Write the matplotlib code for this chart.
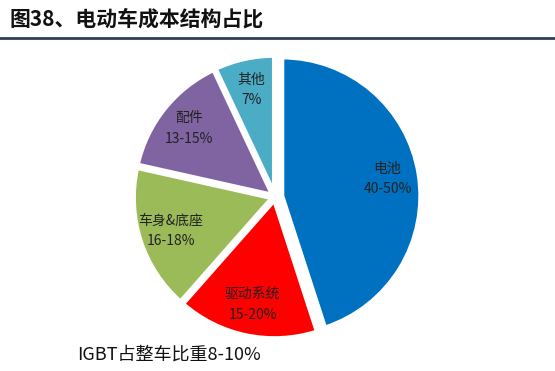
import numpy as np
import matplotlib.pyplot as plt
from matplotlib.lines import Line2D

plt.rcParams['font.family'] = ['Noto Sans CJK SC', 'DejaVu Sans']

# slice data (share of cost, %)
names = ['电池', '驱动系统', '车身&底座', '配件', '其他']
ranges = ['40-50%', '15-20%', '16-18%', '13-15%', '7%']
shares = [45, 16.5, 17, 14.5, 7]
colors = ['#0070C0', '#FF0000', '#9BBB59', '#8064A2', '#4BACC6']
explode = [0.05, 0.02, 0.02, 0.02, 0.02]

title = '图38、电动车成本结构占比'
note = 'IGBT占整车比重8-10%'

fig = plt.figure(figsize=(5.55, 3.71), dpi=100)

# title and rule beneath it
fig.text(0.018, 0.948, title, fontsize=15, fontweight='bold', va='center', ha='left', color='#111111')
fig.add_artist(Line2D([0, 1], [0.898, 0.898], color='#2F3E5C', lw=2))

ax = fig.add_axes([(275 - 150) / 555, (371 - 197 - 150) / 371, 300 / 555, 300 / 371])
labels = [n + '\n' + r for n, r in zip(names, ranges)]
wedges, texts = ax.pie(shares, colors=colors, explode=explode, startangle=90,
                       counterclock=False, labels=labels, labeldistance=0.77,
                       wedgeprops=dict(edgecolor='white', linewidth=3.5),
                       textprops=dict(fontsize=10, color='#222222', ha='center',
                                      va='center', linespacing=1.6))
for t in texts:
    t.set_multialignment('center')
ax.set_xlim(-1.08, 1.08)
ax.set_ylim(-1.08, 1.08)
ax.set_aspect('equal')
ax.axis('off')

fig.text(77 / 555, 1 - 355 / 371, note, fontsize=13, va='center', ha='left', color='#111111')

fig.savefig('out.png', dpi=100)
